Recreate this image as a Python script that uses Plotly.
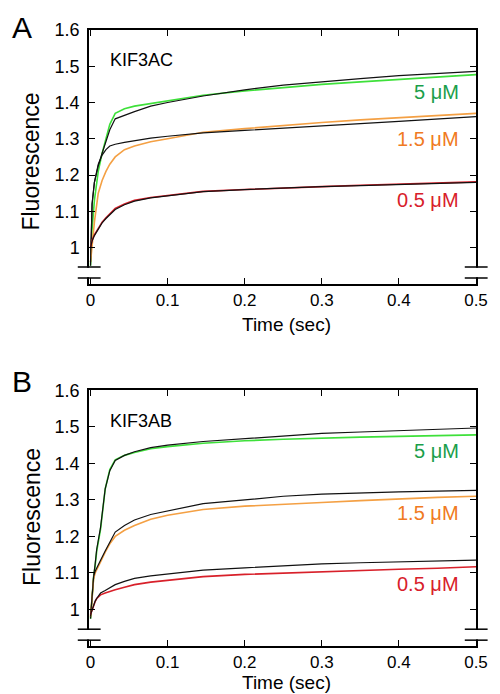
import plotly.graph_objects as go

# ---------------- data ----------------
tA = [0, 0.002, 0.005, 0.01, 0.015, 0.02, 0.025, 0.032, 0.044, 0.057, 0.078, 0.1,
      0.146, 0.2, 0.25, 0.3, 0.35, 0.4, 0.45, 0.5]
A_green_5 = [0.95, 1.05, 1.13, 1.21, 1.26, 1.30, 1.34, 1.37, 1.383, 1.39, 1.397, 1.405,
             1.42, 1.432, 1.442, 1.45, 1.457, 1.464, 1.47, 1.477]
A_black_5 = [0.95, 1.12, 1.18, 1.225, 1.26, 1.29, 1.325, 1.355, 1.365, 1.375, 1.39, 1.40,
             1.418, 1.435, 1.448, 1.458, 1.466, 1.474, 1.48, 1.486]
A_orange_15 = [0.96, 1.0, 1.07, 1.15, 1.185, 1.21, 1.23, 1.25, 1.27, 1.28, 1.292, 1.30,
               1.318, 1.328, 1.337, 1.345, 1.352, 1.358, 1.364, 1.37]
A_black_15 = [0.96, 1.12, 1.18, 1.23, 1.255, 1.27, 1.28, 1.285, 1.29, 1.295, 1.302, 1.307,
              1.316, 1.323, 1.33, 1.336, 1.342, 1.348, 1.354, 1.361]
A_red_05 = [1.0, 1.02, 1.035, 1.054, 1.07, 1.082, 1.093, 1.108, 1.12, 1.13, 1.138, 1.144,
            1.155, 1.16, 1.165, 1.168, 1.172, 1.175, 1.178, 1.181]
A_black_05 = [1.0, 1.018, 1.033, 1.052, 1.068, 1.08, 1.091, 1.105, 1.118, 1.128, 1.137, 1.143,
              1.154, 1.16, 1.165, 1.168, 1.171, 1.174, 1.177, 1.18]

tB = [0, 0.002, 0.004, 0.006, 0.008, 0.013, 0.019, 0.025, 0.032, 0.044, 0.057, 0.078, 0.1,
      0.146, 0.2, 0.25, 0.3, 0.35, 0.4, 0.45, 0.5]
B_green_5 = [0.975, 1.04, 1.09, 1.12, 1.16, 1.22, 1.33, 1.383, 1.41, 1.422, 1.43, 1.44, 1.446,
             1.455, 1.462, 1.466, 1.47, 1.472, 1.474, 1.476, 1.478]
B_black_5 = [0.975, 1.04, 1.09, 1.125, 1.165, 1.225, 1.33, 1.38, 1.408, 1.422, 1.432, 1.443, 1.45,
             1.46, 1.468, 1.475, 1.482, 1.486, 1.49, 1.493, 1.497]
B_orange_15 = [0.98, 1.04, 1.085, 1.1, 1.11, 1.13, 1.157, 1.18, 1.20, 1.217, 1.23, 1.247, 1.258,
               1.274, 1.283, 1.289, 1.293, 1.298, 1.303, 1.307, 1.31]
B_black_15 = [0.98, 1.05, 1.09, 1.105, 1.115, 1.135, 1.16, 1.185, 1.212, 1.23, 1.245, 1.26, 1.27,
              1.29, 1.30, 1.31, 1.316, 1.32, 1.322, 1.324, 1.326]
B_red_05 = [0.986, 1.0, 1.014, 1.022, 1.03, 1.04, 1.045, 1.05, 1.054, 1.061, 1.068, 1.075, 1.08,
            1.09, 1.096, 1.1, 1.103, 1.107, 1.11, 1.113, 1.117]
B_black_05 = [0.986, 1.0, 1.015, 1.023, 1.03, 1.045, 1.052, 1.06, 1.068, 1.077, 1.085, 1.092, 1.097,
              1.108, 1.114, 1.12, 1.125, 1.128, 1.131, 1.133, 1.135]

x_ticks = [0, 0.1, 0.2, 0.3, 0.4, 0.5]
x_tick_text = ["0", "0.1", "0.2", "0.3", "0.4", "0.5"]
y_ticks = [1.0, 1.1, 1.2, 1.3, 1.4, 1.5, 1.6]
y_tick_text = ["1", "1.1", "1.2", "1.3", "1.4", "1.5", "1.6"]
conc_labels = ["5 μM", "1.5 μM", "0.5 μM"]
panel_names = ["KIF3AC", "KIF3AB"]
panel_letters = ["A", "B"]
x_title = "Time (sec)"
y_title = "Fluorescence"

# ---------------- styling ----------------
FONT = "Arial, Liberation Sans, sans-serif"
C_GREEN = "#3ee03a"
C_ORANGE = "#f4a044"
C_RED = "#d8202a"
C_BLACK = "#111111"
L_GREEN = "#1a9e4a"
L_ORANGE = "#f07a22"
L_RED = "#d8202a"

fig = go.Figure()

panels = [
    ("x", "y", tA, [(A_green_5, A_black_5, C_GREEN), (A_orange_15, A_black_15, C_ORANGE),
                    (A_red_05, A_black_05, C_RED)]),
    ("x2", "y2", tB, [(B_green_5, B_black_5, C_GREEN), (B_orange_15, B_black_15, C_ORANGE),
                      (B_red_05, B_black_05, C_RED)]),
]
for xa, ya, t, series in panels:
    for col_vals, blk_vals, col in series:
        fig.add_trace(go.Scatter(x=t, y=col_vals, mode="lines", xaxis=xa, yaxis=ya,
                                 line=dict(color=col, width=1.6), showlegend=False))
        fig.add_trace(go.Scatter(x=t, y=blk_vals, mode="lines", xaxis=xa, yaxis=ya,
                                 line=dict(color=C_BLACK, width=1.2), showlegend=False))

xr = [-0.002, 0.5]
yr = [0.9, 1.6]
axis_common = dict(showline=True, linecolor="black", linewidth=1.5, mirror="ticks",
                   ticks="inside", ticklen=6, tickwidth=1.3, tickcolor="black",
                   showgrid=False, zeroline=False)
xfont = dict(family=FONT, size=17, color="black")
yfont = dict(family=FONT, size=18, color="black")

# the page body adds an 8px offset, so the figure is 8px smaller than the window
fig.update_layout(
    width=492, height=686,
    margin=dict(l=81, r=15, t=14, b=48),
    paper_bgcolor="white", plot_bgcolor="white",
    xaxis=dict(domain=[0, 1], anchor="y", range=xr, tickvals=x_ticks, ticktext=x_tick_text,
               ticklabelstandoff=0, tickfont=xfont, **axis_common),
    yaxis=dict(domain=[0.588, 1.0], anchor="x", range=yr, tickvals=y_ticks, ticktext=y_tick_text,
               ticklabelstandoff=4, tickfont=yfont, **axis_common),
    xaxis2=dict(domain=[0, 1], anchor="y2", range=xr, tickvals=x_ticks, ticktext=x_tick_text,
                ticklabelstandoff=0, tickfont=xfont, **axis_common),
    yaxis2=dict(domain=[0.0, 0.415], anchor="x2", range=yr, tickvals=y_ticks, ticktext=y_tick_text,
                ticklabelstandoff=4, tickfont=yfont, **axis_common),
)

# axis breaks
brk_lo, brk_hi = 0.916, 0.946
for xa, ya in [("x", "y"), ("x2", "y2")]:
    for xd in (0, 1):
        fig.add_shape(type="rect", xref=f"{xa} domain", yref=ya, x0=xd - 0.01, x1=xd + 0.01,
                      y0=brk_lo + 0.002, y1=brk_hi - 0.002, fillcolor="white",
                      line=dict(width=0), layer="above")
        for yy in (brk_lo, brk_hi):
            fig.add_shape(type="line", xref=f"{xa} domain", yref=ya, x0=xd - 0.029, x1=xd + 0.03,
                          y0=yy, y1=yy, line=dict(color="black", width=1.5), layer="above")

# concentration labels + panel names
label_y = {"x": [1.43, 1.30, 1.13], "x2": [1.435, 1.264, 1.071]}
label_cols = [L_GREEN, L_ORANGE, L_RED]
for xa, ya, name in [("x", "y", panel_names[0]), ("x2", "y2", panel_names[1])]:
    for lbl, yy, c in zip(conc_labels, label_y[xa], label_cols):
        fig.add_annotation(x=0.481, y=yy, xref=xa, yref=ya, text=lbl, showarrow=False,
                           xanchor="right", yanchor="middle",
                           font=dict(family=FONT, size=20, color=c))
    fig.add_annotation(x=0.05, y=0.88, xref=f"{xa} domain", yref=f"{ya} domain", text=name,
                       showarrow=False, xanchor="left", yanchor="middle",
                       font=dict(family=FONT, size=18, color="black"))

# axis titles (paper coords)
for ty in (0.5224, -0.0593):
    fig.add_annotation(x=0.51, y=ty, xref="paper", yref="paper", text=x_title, showarrow=False,
                       xanchor="center", yanchor="middle",
                       font=dict(family=FONT, size=19, color="black"))
for ty in (0.787, 0.21):
    fig.add_annotation(x=-0.149, y=ty, xref="paper", yref="paper", text=y_title, showarrow=False,
                       textangle=-90, xanchor="center", yanchor="middle",
                       font=dict(family=FONT, size=23, color="black"))

# panel letters
for lt, ty in zip(panel_letters, (1.004, 0.4295)):
    fig.add_annotation(x=-0.2045, y=ty, xref="paper", yref="paper", text=lt, showarrow=False,
                       xanchor="left", yanchor="middle",
                       font=dict(family=FONT, size=30, color="black"))

fig.write_html("out.html")
